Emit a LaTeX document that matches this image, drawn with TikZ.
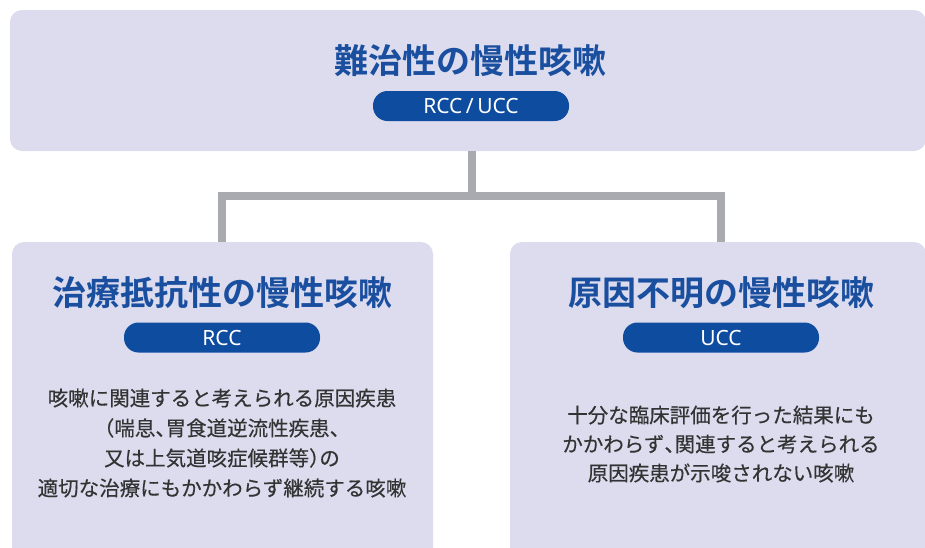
\documentclass[tikz,border=0pt]{standalone}
\usepackage{fontspec}
\setmainfont{Noto Sans CJK JP}[BoldFont={Noto Sans CJK JP Bold}]
\newfontfamily\bodyfont{Noto Sans CJK JP}[FakeBold=0.35]
\newfontfamily\pillfont{Noto Sans}
\newcommand{\tcomma}{\makebox[0.5em][l]{、}}
\newcommand{\topen}{\makebox[0.5em][r]{（}}
\newcommand{\tclose}{\makebox[0.5em][l]{）}}
\definecolor{boxfill}{HTML}{DCDCEE}
\definecolor{titleblue}{HTML}{1A4FA0}
\definecolor{pillblue}{HTML}{0E4CA0}
\definecolor{conngray}{HTML}{A9AAB0}
\definecolor{bodytext}{HTML}{333333}
\begin{document}
\begin{tikzpicture}[x=1pt,y=-1pt,
  panel/.style={fill=boxfill,rounded corners=12pt,inner sep=0pt,draw=none},
  titletext/.style={text=titleblue,font=\fontsize{34}{40}\selectfont\bfseries,inner sep=0pt},
  pill/.style={fill=pillblue,rounded corners=14.5pt,minimum width=196pt,minimum height=30pt,inner sep=0pt,text=white,font=\pillfont\fontsize{21}{24}\selectfont},
  bodyL/.style={text=bodytext,align=center,inner sep=0pt,font=\bodyfont\fontsize{20.5}{30}\selectfont},
  bodyR/.style={text=bodytext,align=center,inner sep=0pt,font=\bodyfont\fontsize{20.5}{29}\selectfont},
  conn/.style={draw=conngray,line width=8pt}
]
\useasboundingbox (0,0) rectangle (925,547);
\clip (0,0) rectangle (925,547);
% boxes
\node[panel,minimum width=916pt,minimum height=141pt] (top) at (468,80.5) {};
\node[panel,minimum width=421pt,minimum height=318pt] (left) at (222.5,401) {};
\node[panel,minimum width=416pt,minimum height=318pt] (right) at (718,401) {};
% connectors
\coordinate (j) at (472,196);
\coordinate (jl) at (222,196);
\coordinate (jr) at (721,196);
\draw[conn] (j |- top.south) -- ([yshift=4pt]j);
\draw[conn] (jl |- left.north) -- (jl) -- (jr) -- (jr |- right.north);
% top content
\node[titletext] (toptitle) at (470,61) {難治性の慢性咳嗽};
\node[pill] (toppill) at (471,106) {RCC\,/\,UCC};
% left content
\node[titletext] (lefttitle) at (222,293) {治療抵抗性の慢性咳嗽};
\node[pill] (leftpill) at (222,337.5) {RCC};
\node[bodyL] (leftbody) at (222,443) {咳嗽に関連すると考えられる原因疾患\\\topen 喘息\tcomma 胃食道逆流性疾患\tcomma\\又は上気道咳症候群等\tclose の\\適切な治療にもかかわらず継続する咳嗽};
% right content
\node[titletext] (righttitle) at (721.5,293) {原因不明の慢性咳嗽};
\node[pill] (rightpill) at (721,337.5) {UCC};
\node[bodyR] (rightbody) at (721,444) {十分な臨床評価を行った結果にも\\かかわらず\tcomma 関連すると考えられる\\原因疾患が示唆されない咳嗽};
\end{tikzpicture}
\end{document}
